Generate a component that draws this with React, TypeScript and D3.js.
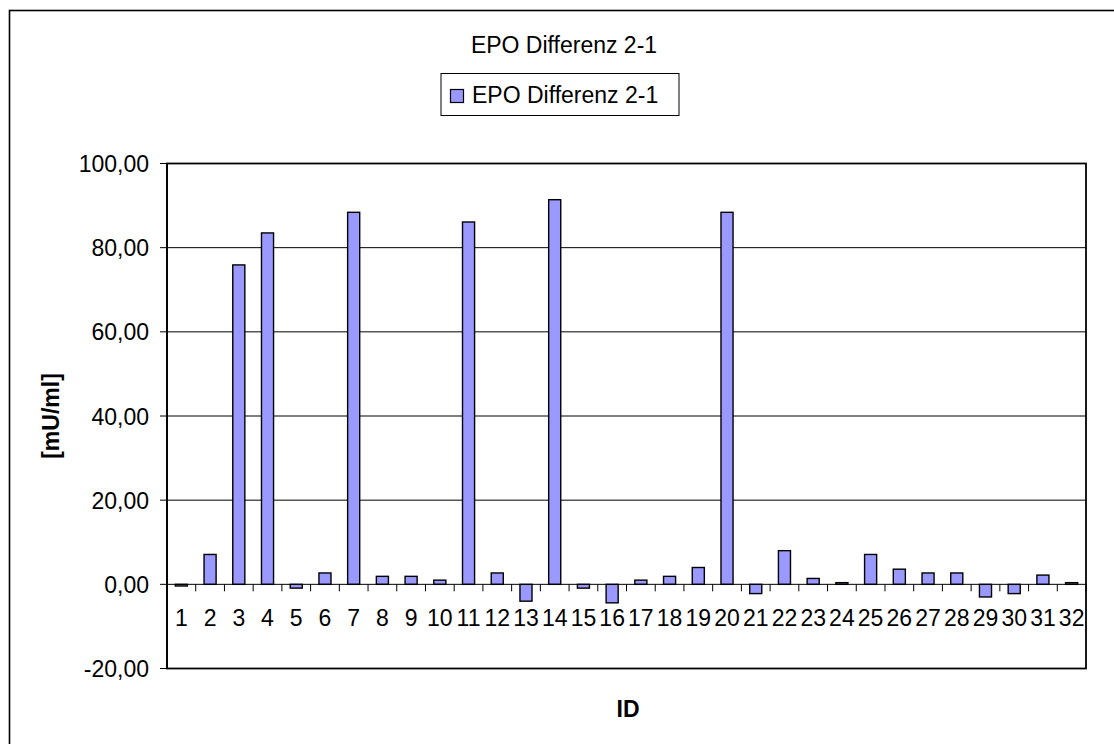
import React from "react";
import * as d3 from "d3";

// EPO difference (visit 2 minus visit 1) per subject ID, in mU/ml
const ids: string[] = [
  "1", "2", "3", "4", "5", "6", "7", "8", "9", "10", "11", "12", "13", "14", "15", "16",
  "17", "18", "19", "20", "21", "22", "23", "24", "25", "26", "27", "28", "29", "30", "31", "32",
];
const epoDiff: number[] = [
  -0.4, 7.1, 75.9, 83.5, -0.9, 2.7, 88.4, 1.9, 1.9, 1.0, 86.1, 2.7, -4.0, 91.4, -0.9, -4.4,
  1.0, 1.9, 4.0, 88.4, -2.2, 8.0, 1.4, 0.4, 7.1, 3.6, 2.7, 2.7, -3.0, -2.2, 2.2, 0.4,
];
const yTicks: number[] = [-20, 0, 20, 40, 60, 80, 100];

const chartTitle = "EPO Differenz 2-1";
const seriesName = "EPO Differenz 2-1";
const yTitle = "[mU/ml]";
const xTitle = "ID";

const W = 1114;
const H = 744;
const plot = { left: 167, right: 1086, top: 163.5, bottom: 668.5 };
const FONT = "'Liberation Sans', Arial, sans-serif";
const FS = 23;
const BAR_FILL = "#9999FF";

const fmt = (v: number) => v.toFixed(2).replace(".", ",");

export default function App() {
  const x = d3.scaleBand<string>().domain(ids).range([plot.left, plot.right]).paddingInner(0).paddingOuter(0);
  const y = d3.scaleLinear().domain([-20, 100]).range([plot.bottom, plot.top]);
  const step = x.step();
  const barW = step * 0.42;
  const y0 = y(0);

  return (
    <svg
      width={W}
      height={H}
      style={{ position: "absolute", left: 0, top: 0, background: "#fff" }}
      fontFamily={FONT}
    >
      <rect x={0} y={0} width={W} height={H} fill="#fff" />
      {/* chart area frame */}
      <rect x={9.5} y={10.5} width={1110} height={745} fill="none" stroke="#000" strokeWidth={1.6} />

      {/* title */}
      <text x={564} y={53} textAnchor="middle" fontSize={FS} fill="#000">
        {chartTitle}
      </text>

      {/* legend */}
      <rect x={441} y={73.5} width={238} height={42} fill="#fff" stroke="#000" strokeWidth={1} />
      <rect x={450.5} y={89.5} width={13} height={13} fill={BAR_FILL} stroke="#000" strokeWidth={1.2} />
      <text x={472} y={102.5} fontSize={FS} fill="#000">
        {seriesName}
      </text>

      {/* horizontal gridlines */}
      {yTicks
        .filter((t) => t !== -20 && t !== 0 && t !== 100)
        .map((t) => (
          <line key={"g" + t} x1={plot.left} x2={plot.right} y1={y(t)} y2={y(t)} stroke="#000" strokeWidth={1} />
        ))}

      {/* plot border */}
      <rect
        x={plot.left}
        y={plot.top}
        width={plot.right - plot.left}
        height={plot.bottom - plot.top}
        fill="none"
        stroke="#000"
        strokeWidth={1.8}
      />

      {/* bars */}
      {ids.map((id, i) => {
        const v = epoDiff[i];
        const cx = (x(id) as number) + step / 2;
        const top = Math.min(y(v), y0);
        const h = Math.abs(y(v) - y0);
        return (
          <rect
            key={"b" + id}
            x={cx - barW / 2}
            y={top}
            width={barW}
            height={Math.max(h, 0.8)}
            fill={BAR_FILL}
            stroke="#000"
            strokeWidth={1.4}
          />
        );
      })}

      {/* category axis at zero */}
      <line x1={plot.left} x2={plot.right} y1={y0} y2={y0} stroke="#000" strokeWidth={1} />
      {ids.map((id, i) => (
        <line
          key={"t" + id}
          x1={(x(id) as number) + (i === 0 ? step : step)}
          x2={(x(id) as number) + step}
          y1={y0}
          y2={y0 + 7}
          stroke="#000"
          strokeWidth={1}
        />
      ))}
      {ids.map((id) => (
        <text
          key={"l" + id}
          x={(x(id) as number) + step / 2}
          y={y0 + 42}
          textAnchor="middle"
          fontSize={FS}
          fill="#000"
        >
          {id}
        </text>
      ))}

      {/* value axis */}
      <line x1={plot.left} x2={plot.left} y1={plot.top} y2={plot.bottom} stroke="#000" strokeWidth={1.6} />
      {yTicks.map((t) => (
        <g key={"y" + t}>
          <line x1={plot.left - 7} x2={plot.left} y1={y(t)} y2={y(t)} stroke="#000" strokeWidth={1} />
          <text x={149} y={y(t) + 8.5} textAnchor="end" fontSize={FS} fill="#000">
            {fmt(t)}
          </text>
        </g>
      ))}

      {/* axis titles */}
      <text
        transform={`translate(59, ${(plot.top + plot.bottom) / 2}) rotate(-90)`}
        textAnchor="middle"
        fontSize={FS}
        fontWeight="bold"
        fill="#000"
      >
        {yTitle}
      </text>
      <text x={628} y={717} textAnchor="middle" fontSize={FS} fontWeight="bold" fill="#000">
        {xTitle}
      </text>
    </svg>
  );
}
